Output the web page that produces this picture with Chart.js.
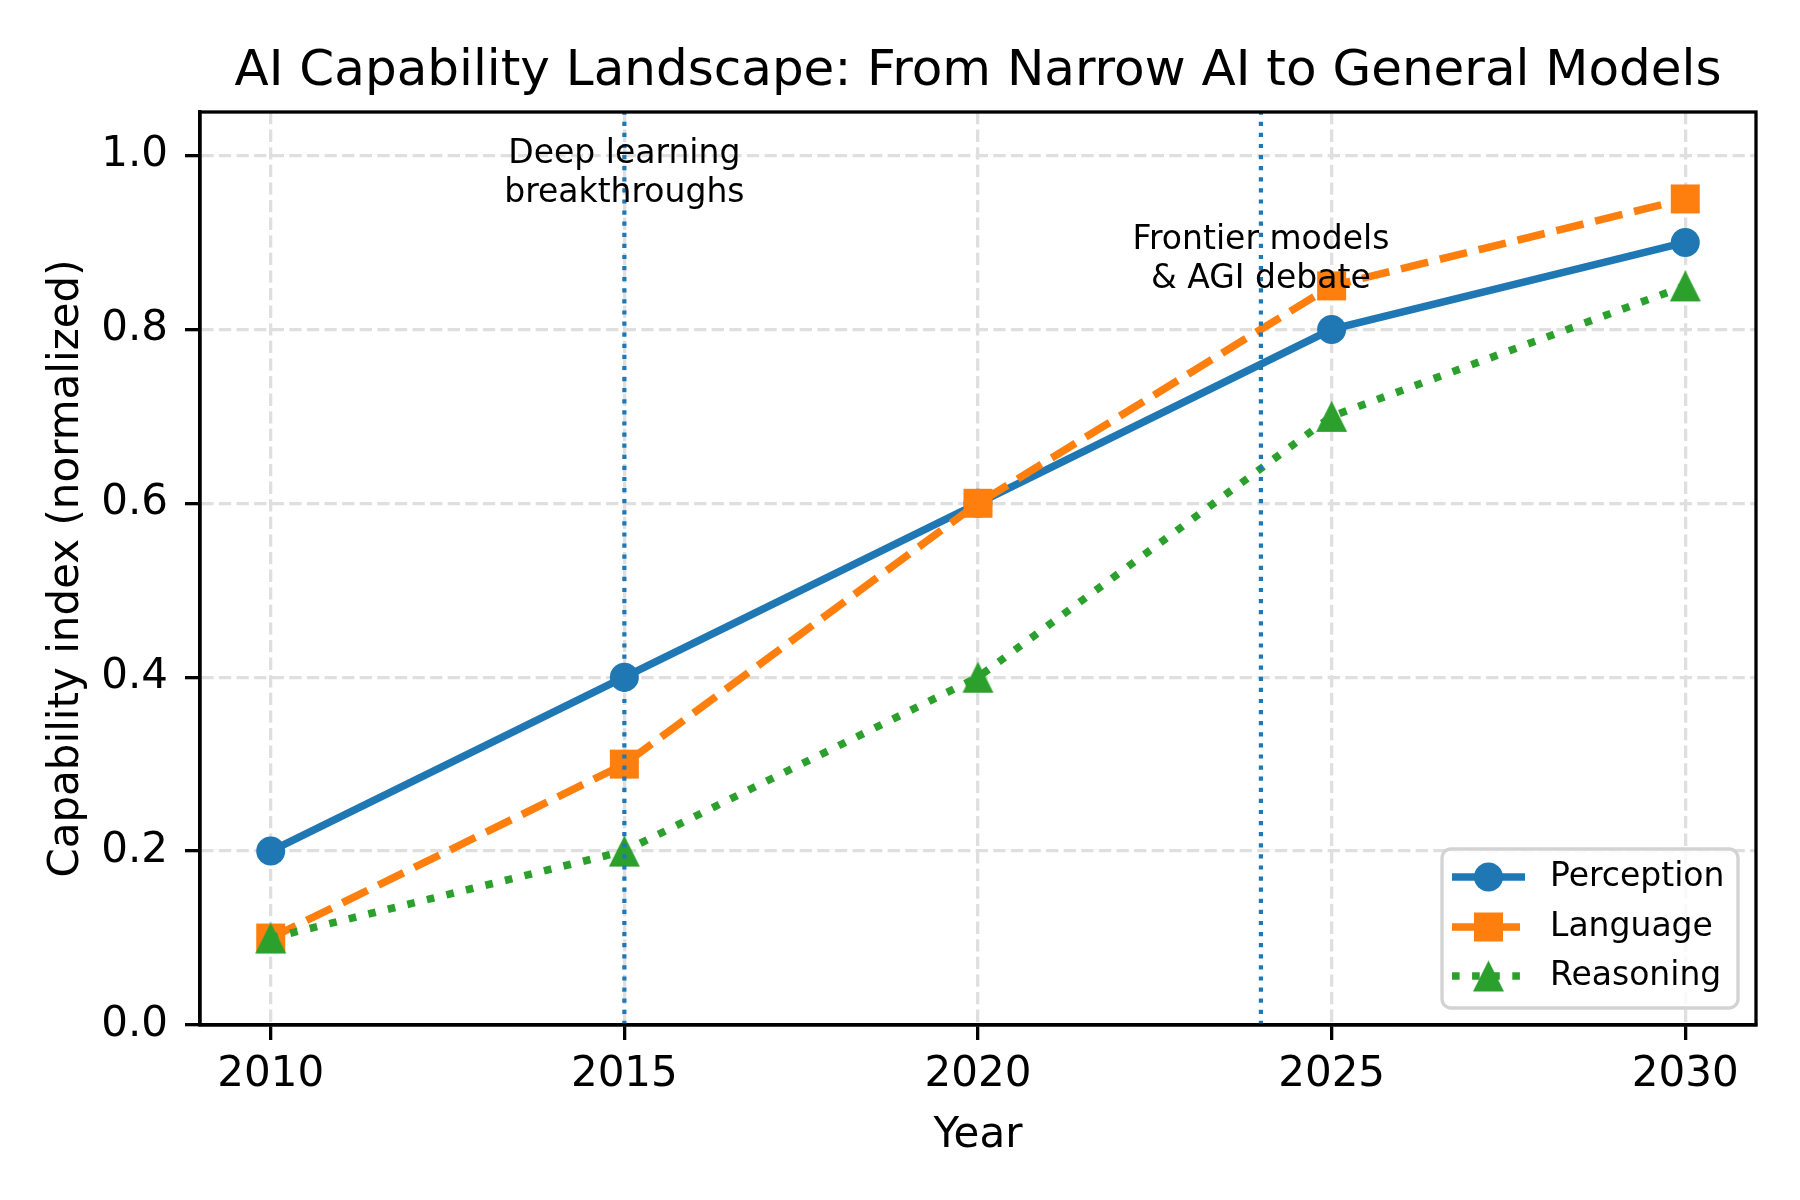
<!DOCTYPE html>
<html>
<head>
<meta charset="utf-8">
<script src="https://cdn.jsdelivr.net/npm/chart.js@4.4.1/dist/chart.umd.min.js"></script>
<style>
  html, body { margin: 0; padding: 0; background: #fff; }
  #wrap { width: 1800px; height: 1200px; }
</style>
</head>
<body>
<div id="wrap"><canvas id="aiChart" width="1800" height="1200"></canvas></div>
<script>
// Data
const years = [2010, 2015, 2020, 2025, 2030];
const perception = [0.2, 0.4, 0.6, 0.8, 0.9];
const language = [0.1, 0.3, 0.6, 0.85, 0.95];
const reasoning = [0.1, 0.2, 0.4, 0.7, 0.85];
const seriesNames = ['Perception', 'Language', 'Reasoning'];

const xTicks = [2010, 2015, 2020, 2025, 2030];
const yTicks = [0.0, 0.2, 0.4, 0.6, 0.8, 1.0];

const milestoneYears = [2015, 2024];
const milestoneLabels = [['Deep learning', 'breakthroughs'], ['Frontier models', '& AGI debate']];
const milestoneLabelY = [0.979, 0.88];

const chartTitle = 'AI Capability Landscape: From Narrow AI to General Models';
const xTitle = 'Year';
const yTitle = 'Capability index (normalized)';

const FONT = "'DejaVu Sans', 'Liberation Sans', sans-serif";
const BLUE = '#1f77b4', ORANGE = '#ff7f0e', GREEN = '#2ca02c';
const LW = 7.6;

// matplotlib style '^' marker as an image
function makeTriangle(color, size) {
    const pad = 2;
    const c = document.createElement('canvas');
    c.width = size + pad * 2;
    c.height = size + pad * 2;
    const g = c.getContext('2d');
    g.fillStyle = color;
    g.beginPath();
    g.moveTo(pad + size / 2, pad);
    g.lineTo(pad + size, pad + size);
    g.lineTo(pad, pad + size);
    g.closePath();
    g.fill();
    return c;
}
const triangle = makeTriangle(GREEN, 31);

const toPoints = arr => arr.map((v, i) => ({ x: years[i], y: v }));

// vertical lines, notes, frame, legend, titles
const decorations = {
    id: 'decorations',
    afterDatasetsDraw(chart) {
        const { ctx, chartArea: a, scales: { x, y } } = chart;

        // milestone lines
        ctx.save();
        ctx.strokeStyle = BLUE;
        ctx.lineWidth = 4.2;
        ctx.setLineDash([4.2, 6.9]);
        milestoneYears.forEach(yr => {
            const px = x.getPixelForValue(yr);
            ctx.beginPath();
            ctx.moveTo(px, a.bottom);
            ctx.lineTo(px, a.top);
            ctx.stroke();
        });
        ctx.restore();

        // milestone notes
        ctx.save();
        ctx.fillStyle = '#000';
        ctx.font = '33px ' + FONT;
        ctx.textAlign = 'center';
        ctx.textBaseline = 'middle';
        milestoneLabels.forEach((lines, i) => {
            const px = x.getPixelForValue(milestoneYears[i]);
            const cy = y.getPixelForValue(milestoneLabelY[i]);
            lines.forEach((t, j) => {
                ctx.fillText(t, px, cy + (j - (lines.length - 1) / 2) * 39);
            });
        });
        ctx.restore();

        // axes frame
        ctx.save();
        ctx.strokeStyle = '#000';
        ctx.lineWidth = 3.3;
        ctx.strokeRect(a.left, a.top, a.right - a.left, a.bottom - a.top);
        ctx.restore();

        // legend
        const bx = 1442, by = 849, bw = 296, bh = 159, r = 9;
        ctx.save();
        ctx.beginPath();
        ctx.moveTo(bx + r, by);
        ctx.arcTo(bx + bw, by, bx + bw, by + bh, r);
        ctx.arcTo(bx + bw, by + bh, bx, by + bh, r);
        ctx.arcTo(bx, by + bh, bx, by, r);
        ctx.arcTo(bx, by, bx + bw, by, r);
        ctx.closePath();
        ctx.fillStyle = 'rgba(255,255,255,0.8)';
        ctx.fill();
        ctx.strokeStyle = '#d3d3d3';
        ctx.lineWidth = 3.3;
        ctx.stroke();

        const rows = [877, 927, 976];
        chart.data.datasets.forEach((ds, i) => {
            const ry = rows[i];
            ctx.save();
            ctx.strokeStyle = ds.borderColor;
            ctx.lineWidth = LW;
            ctx.setLineDash(ds.borderDash || []);
            ctx.beginPath();
            ctx.moveTo(1452, ry);
            ctx.lineTo(1525, ry);
            ctx.stroke();
            ctx.restore();

            const cx = 1488.5;
            ctx.fillStyle = ds.backgroundColor;
            if (ds.pointStyle === 'circle') {
                ctx.beginPath();
                ctx.arc(cx, ry, ds.pointRadius, 0, Math.PI * 2);
                ctx.fill();
            } else if (ds.pointStyle === 'rect') {
                const s = ds.pointRadius * Math.SQRT1_2;
                ctx.fillRect(cx - s, ry - s, 2 * s, 2 * s);
            } else {
                const img = ds.pointStyle;
                ctx.drawImage(img, cx - img.width / 2, ry - img.height / 2);
            }

            ctx.fillStyle = '#000';
            ctx.font = '33px ' + FONT;
            ctx.textAlign = 'left';
            ctx.textBaseline = 'middle';
            ctx.fillText(ds.label, 1550, ry);
        });
        ctx.restore();

        // titles
        ctx.save();
        ctx.fillStyle = '#000';
        ctx.textAlign = 'center';
        ctx.textBaseline = 'alphabetic';
        ctx.font = '50px ' + FONT;
        ctx.fillText(chartTitle, (a.left + a.right) / 2, 85);
        ctx.font = '42px ' + FONT;
        ctx.fillText(xTitle, (a.left + a.right) / 2, 1147);
        ctx.translate(78, (a.top + a.bottom) / 2);
        ctx.rotate(-Math.PI / 2);
        ctx.fillText(yTitle, 0, 0);
        ctx.restore();
    }
};

const gridStyle = {
    color: '#dfdfdf',
    lineWidth: 3.3,
    tickColor: '#000',
    tickWidth: 3.3,
    tickLength: 15
};

new Chart(document.getElementById('aiChart'), {
    type: 'line',
    data: {
        datasets: [
            {
                label: seriesNames[0],
                data: toPoints(perception),
                borderColor: BLUE,
                backgroundColor: BLUE,
                borderWidth: LW,
                pointStyle: 'circle',
                pointRadius: 14.5,
                pointBorderWidth: 0,
                order: 3
            },
            {
                label: seriesNames[1],
                data: toPoints(language),
                borderColor: ORANGE,
                backgroundColor: ORANGE,
                borderWidth: LW,
                borderDash: [28, 12],
                pointStyle: 'rect',
                pointRadius: 20.5,
                pointBorderWidth: 0,
                order: 2
            },
            {
                label: seriesNames[2],
                data: toPoints(reasoning),
                borderColor: GREEN,
                backgroundColor: GREEN,
                borderWidth: LW,
                borderDash: [7.6, 12.5],
                pointStyle: triangle,
                pointRadius: 16,
                pointBorderWidth: 0,
                order: 1
            }
        ]
    },
    options: {
        responsive: false,
        devicePixelRatio: 1,
        animation: false,
        events: [],
        layout: { padding: { top: 112, right: 44, bottom: 0, left: 0 } },
        plugins: {
            legend: { display: false },
            title: { display: false },
            tooltip: { enabled: false }
        },
        elements: { line: { tension: 0, fill: false } },
        scales: {
            x: {
                type: 'linear',
                min: 2009,
                max: 2031,
                afterBuildTicks: s => { s.ticks = xTicks.map(v => ({ value: v })); },
                afterFit: s => { s.height = 175; },
                ticks: {
                    color: '#000',
                    font: { family: FONT, size: 42 },
                    padding: 10,
                    maxRotation: 0,
                    callback: v => String(v)
                },
                grid: gridStyle,
                border: { display: true, color: '#000', width: 3.3, dash: [12.3, 5.3] }
            },
            y: {
                min: 0,
                max: 1.05,
                afterBuildTicks: s => { s.ticks = yTicks.map(v => ({ value: v })); },
                afterFit: s => { s.width = 200; },
                ticks: {
                    color: '#000',
                    font: { family: FONT, size: 42 },
                    padding: 17,
                    callback: v => Number(v).toFixed(1)
                },
                grid: gridStyle,
                border: { display: true, color: '#000', width: 3.3, dash: [12.3, 5.3] }
            }
        }
    },
    plugins: [decorations]
});
</script>
</body>
</html>
